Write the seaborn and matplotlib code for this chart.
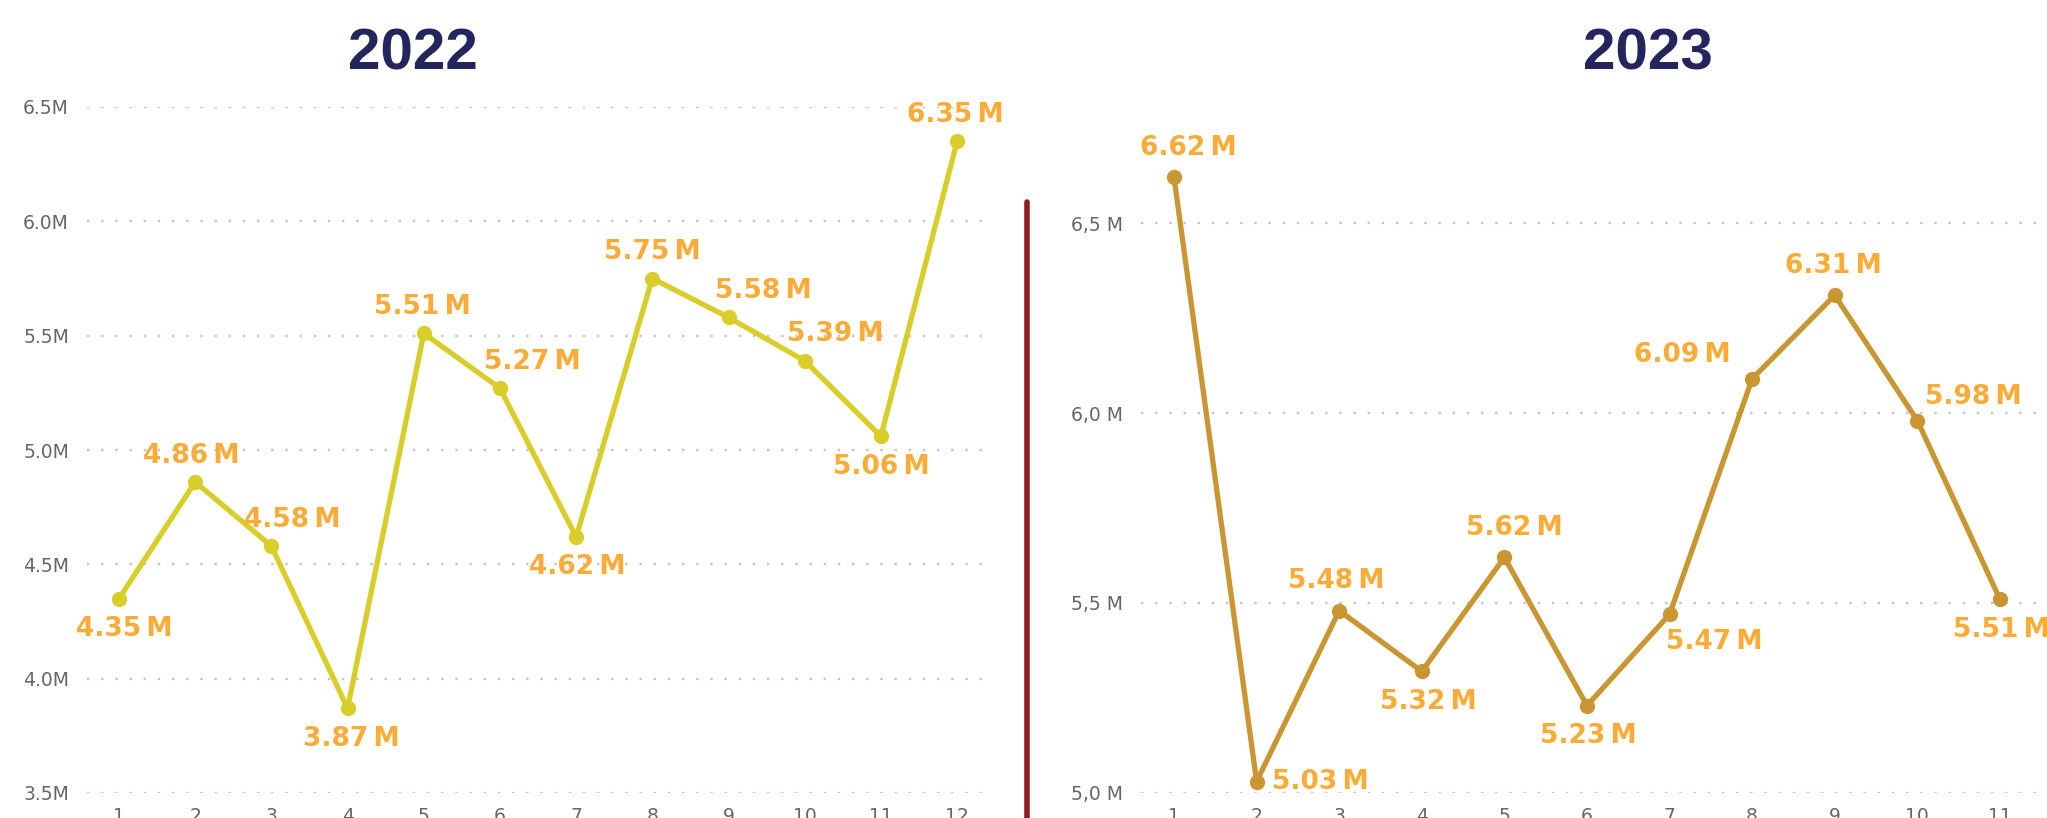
import matplotlib
matplotlib.use("Agg")
import matplotlib.pyplot as plt
import seaborn as sns
import pandas as pd
from matplotlib.lines import Line2D

# --- datos ---
meses_2022 = [1, 2, 3, 4, 5, 6, 7, 8, 9, 10, 11, 12]
ventas_2022 = [4.35, 4.86, 4.58, 3.87, 5.51, 5.27, 4.62, 5.75, 5.58, 5.39, 5.06, 6.35]
meses_2023 = [1, 2, 3, 4, 5, 6, 7, 8, 9, 10, 11]
ventas_2023 = [6.62, 5.03, 5.48, 5.32, 5.62, 5.23, 5.47, 6.09, 6.31, 5.98, 5.51]
ticks_2022 = [3.5, 4.0, 4.5, 5.0, 5.5, 6.0, 6.5]
ticks_2023 = [5.0, 5.5, 6.0, 6.5]

# desplazamiento de etiquetas (puntos) para que no se pisen
offs_2022 = [(4, -22), (-3, 19), (15, 19), (3, -22), (-1, 19), (23, 19),
             (1, -22), (0, 19), (25, 19), (22, 19), (0, -22), (-1, 19)]
offs_2023 = [(10, 21), (46, 0), (-2, 21), (5, -22), (7, 21), (1, -22),
             (32, -20), (-50, 17), (-1, 21), (40, 17), (1, -22)]

sns.set_theme(style="white")
plt.rcParams['font.family'] = ['DejaVu Sans']

fig = plt.figure(figsize=(20.47, 8.18), dpi=100)
ax1 = fig.add_axes([87 / 2047, 25 / 818, 896 / 2047, 686 / 818])
ax2 = fig.add_axes([1141 / 2047, 25 / 818, 906 / 2047, 686 / 818])

naranja = '#FCAB37'
grid_kw = dict(color='#C4C4C4', lw=1.7, linestyle=(0, (1, 5)), zorder=0)


def panel(ax, meses, ventas, offs, color, yticks, fmt, xlim, ylim):
    df = pd.DataFrame({'mes': meses, 'ventas': ventas})
    for t in yticks:
        ax.axhline(t, **grid_kw)
    sns.lineplot(data=df, x='mes', y='ventas', ax=ax, color=color, lw=3.8,
                 marker='o', markersize=11, markeredgewidth=0, zorder=3)
    for (m, v), (dx, dy) in zip(zip(meses, ventas), offs):
        ax.annotate(f"{v:.2f}\u2009M", (m, v), xytext=(dx, dy), textcoords='offset points',
                    ha='center', va='center', fontsize=19, fontweight='bold',
                    color=naranja, annotation_clip=False, zorder=4)
    ax.set_xlim(*xlim)
    ax.set_ylim(*ylim)
    ax.set_xticks(meses)
    ax.set_yticks(yticks)
    ax.set_yticklabels([fmt(t) for t in yticks])
    ax.tick_params(axis='both', length=0, labelsize=13.5, labelcolor='#666666')
    ax.tick_params(axis='y', pad=13)
    ax.tick_params(axis='x', pad=10)
    ax.set_xlabel('')
    ax.set_ylabel('')
    for s in ax.spines.values():
        s.set_visible(False)


panel(ax1, meses_2022, ventas_2022, offs_2022, '#D9CD2A', ticks_2022,
      lambda t: f"{t:.1f}M", (0.58, 12.34), (3.5, 6.5))
panel(ax2, meses_2023, ventas_2023, offs_2023, '#CA9632', ticks_2023,
      lambda t: f"{t:.1f} M".replace('.', ','), (0.6, 11.57), (5.0, 5.0 + 686 / 380))

fig.text(413 / 2047, 1 - 54 / 818, '2022', ha='center', va='center', fontsize=42,
         fontweight='bold', color='#25255E', family='Liberation Sans')
fig.text(1648 / 2047, 1 - 54 / 818, '2023', ha='center', va='center', fontsize=42,
         fontweight='bold', color='#25255E', family='Liberation Sans')

fig.add_artist(Line2D([1027 / 2047, 1027 / 2047], [0, 1 - 202 / 818],
                      transform=fig.transFigure, color='#951B20', lw=4))

plt.savefig('out.png', dpi=100)
plt.close()
